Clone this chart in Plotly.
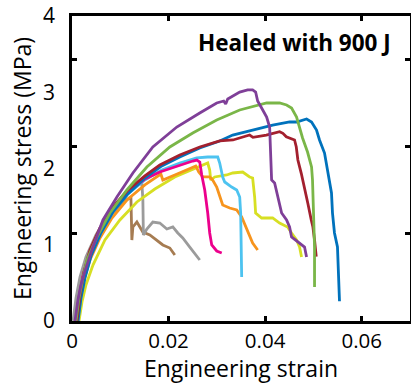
import plotly.graph_objects as go

# ---- data (strain, stress in MPa) ----
purple_x = [0.00062, 0.00124, 0.00186, 0.00269, 0.00434, 0.00641, 0.00930, 0.01261, 0.01674, 0.02170,
            0.02646, 0.02997, 0.03142, 0.03183, 0.03225, 0.03473, 0.03638, 0.03741, 0.03803, 0.03845,
            0.03927, 0.04031, 0.04093, 0.04113, 0.04134, 0.04196, 0.04258, 0.04341, 0.04444, 0.04506,
            0.04547, 0.04713, 0.04816, 0.04858]
purple_y = [0.00, 0.275, 0.472, 0.656, 0.970, 1.325, 1.626, 1.941, 2.282, 2.544,
            2.728, 2.859, 2.885, 2.846, 2.911, 3.003, 3.030, 3.030, 3.003, 2.885,
            2.793, 2.675, 2.544, 2.282, 1.849, 1.810, 1.626, 1.416, 1.325, 1.233,
            1.102, 1.023, 0.970, 0.839]

green_x = [0.00083, 0.00145, 0.00227, 0.00310, 0.00517, 0.00785, 0.01137, 0.01550, 0.02026, 0.02501,
           0.02997, 0.03473, 0.04031, 0.04299, 0.04444, 0.04547, 0.04651, 0.04713, 0.04775, 0.04878,
           0.04961, 0.04981, 0.05002, 0.05023, 0.05023]
green_y = [0.0, 0.302, 0.564, 0.800, 1.102, 1.416, 1.718, 2.020, 2.282, 2.466,
           2.636, 2.767, 2.859, 2.859, 2.833, 2.793, 2.675, 2.531, 2.400, 2.216,
           2.020, 1.849, 1.416, 0.970, 0.446]

blue_x = [0.00124, 0.00186, 0.00269, 0.00393, 0.00599, 0.00847, 0.01158, 0.01509, 0.01860, 0.02232,
          0.02646, 0.03059, 0.03328, 0.03741, 0.04155, 0.04506, 0.04651, 0.04858, 0.04961, 0.05064,
          0.05126, 0.05230, 0.05292, 0.05374, 0.05395, 0.05436, 0.05498, 0.05519, 0.05540]
blue_y = [0.0, 0.302, 0.564, 0.852, 1.154, 1.430, 1.666, 1.875, 2.033, 2.151,
          2.269, 2.361, 2.439, 2.505, 2.570, 2.610, 2.610, 2.649, 2.610, 2.505,
          2.374, 2.203, 1.980, 1.679, 1.416, 1.154, 0.970, 0.708, 0.260]

red_x = [0.00103, 0.00165, 0.00248, 0.00372, 0.00579, 0.00827, 0.01137, 0.01509, 0.01819, 0.02232,
         0.02646, 0.03059, 0.03334, 0.03679, 0.03748, 0.04024, 0.04299, 0.04368, 0.04438, 0.04609,
         0.04644, 0.04678, 0.04748, 0.04816, 0.04884, 0.04955, 0.04988, 0.05023, 0.05058]
red_y = [0.0, 0.328, 0.643, 0.931, 1.220, 1.482, 1.705, 1.902, 2.046, 2.177,
         2.282, 2.361, 2.374, 2.439, 2.409, 2.439, 2.483, 2.461, 2.417, 2.374,
         2.286, 2.111, 1.937, 1.761, 1.544, 1.325, 1.237, 1.062, 0.843]

lightblue_x = [0.00124, 0.00186, 0.00269, 0.00393, 0.00599, 0.00847, 0.01158, 0.01509, 0.01860, 0.02232,
               0.02584, 0.02811, 0.03018, 0.03059, 0.03121, 0.03163, 0.03307, 0.03411, 0.03473, 0.03493,
               0.03514]
lightblue_y = [0.0, 0.315, 0.590, 0.866, 1.167, 1.430, 1.666, 1.849, 1.980, 2.072,
               2.138, 2.151, 2.151, 2.072, 1.888, 1.823, 1.757, 1.718, 1.626, 1.416,
               0.577]

magenta_x = [0.00083, 0.00145, 0.00227, 0.00351, 0.00558, 0.00806, 0.01137, 0.01509, 0.01819, 0.02232,
             0.02501, 0.02584, 0.02646, 0.02687, 0.02749, 0.02811, 0.02852, 0.02894, 0.02997, 0.03101]
magenta_y = [0.0, 0.315, 0.590, 0.866, 1.167, 1.430, 1.679, 1.862, 1.954, 2.046,
             2.098, 2.111, 2.085, 1.915, 1.718, 1.416, 1.154, 0.997, 0.918, 0.892]

orange_x = [0.00103, 0.00165, 0.00248, 0.00372, 0.00579, 0.00827, 0.01137, 0.01509, 0.01840, 0.01881,
            0.02129, 0.02439, 0.02563, 0.02625, 0.02708, 0.02852, 0.02914, 0.02997, 0.03059, 0.03121,
            0.03266, 0.03411, 0.03514, 0.03617, 0.03679, 0.03741, 0.03845]
orange_y = [0.0, 0.275, 0.538, 0.800, 1.089, 1.351, 1.587, 1.784, 1.928, 1.849,
            1.915, 2.007, 2.033, 1.954, 1.889, 1.889, 1.849, 1.757, 1.652, 1.521,
            1.482, 1.456, 1.364, 1.220, 1.128, 1.023, 0.931]

yellow_x = [0.00145, 0.00207, 0.00289, 0.00434, 0.00682, 0.00992, 0.01344, 0.01716, 0.02129, 0.02501,
            0.02811, 0.02852, 0.02873, 0.02956, 0.03204, 0.03328, 0.03535, 0.03679, 0.03741, 0.03783,
            0.03803, 0.03927, 0.04155, 0.04299, 0.04465, 0.04547, 0.04651, 0.04713, 0.04754]
yellow_y = [0.0, 0.249, 0.472, 0.734, 1.062, 1.325, 1.561, 1.731, 1.889, 1.993,
            2.072, 1.980, 1.849, 1.889, 1.915, 1.941, 1.954, 1.889, 1.875, 1.626,
            1.416, 1.351, 1.351, 1.285, 1.233, 1.154, 1.062, 0.970, 0.839]

gray_x = [0.00021, 0.00083, 0.00165, 0.00289, 0.00496, 0.00744, 0.01034, 0.01240, 0.01447, 0.01468,
          0.01478, 0.01550, 0.01674, 0.01819, 0.01964, 0.02088, 0.02191, 0.02294, 0.02439, 0.02646]
gray_y = [0.0, 0.302, 0.577, 0.839, 1.128, 1.390, 1.613, 1.744, 1.810, 1.587,
          1.128, 1.207, 1.298, 1.285, 1.207, 1.233, 1.154, 1.089, 0.970, 0.800]

brown_x = [0.00062, 0.00124, 0.00207, 0.00331, 0.00537, 0.00785, 0.01034, 0.01220, 0.01240, 0.01261,
           0.01344, 0.01406, 0.01468, 0.01612, 0.01757, 0.01881, 0.02026, 0.02129]
brown_y = [0.0, 0.302, 0.564, 0.826, 1.115, 1.377, 1.548, 1.626, 1.062, 1.233,
           1.298, 1.233, 1.167, 1.128, 1.062, 0.997, 0.957, 0.866]

x_tickvals = [0, 0.02, 0.04, 0.06]
x_ticktext = ["0", "0.02", "0.04", "0.06"]
y_tickvals = [0, 1, 2, 3, 4]
y_ticktext = ["0", "1", "2", "3", "4"]
y_tickmarks = [1, 2, 3]

series = [
    ("brown", brown_x, brown_y, "#A67C52"),
    ("gray", gray_x, gray_y, "#9B9B9B"),
    ("yellow", yellow_x, yellow_y, "#D7DF23"),
    ("orange", orange_x, orange_y, "#F7941D"),
    ("lightblue", lightblue_x, lightblue_y, "#4DC3F0"),
    ("magenta", magenta_x, magenta_y, "#EC008C"),
    ("blue", blue_x, blue_y, "#0072BC"),
    ("red", red_x, red_y, "#A3202E"),
    ("green", green_x, green_y, "#7AB648"),
    ("purple", purple_x, purple_y, "#7F3F98"),
]

fig = go.Figure()
for name, xs, ys, col in series:
    fig.add_trace(go.Scatter(x=xs, y=ys, mode="lines", name=name,
                             line=dict(color=col, width=2.8), showlegend=False))
# empty trace to activate the tick-mark axis
fig.add_trace(go.Scatter(x=[], y=[], yaxis="y2", showlegend=False))

FONT = "Open Sans"
fig.update_layout(
    template="none",
    width=411, height=384,
    margin=dict(l=72, r=1, t=16, b=63),
    paper_bgcolor="white", plot_bgcolor="white",
    font=dict(family=FONT, color="black", size=21),
    xaxis=dict(range=[0, 0.07], tickvals=x_tickvals, ticktext=x_ticktext, automargin=False,
               ticks="inside", ticklen=5, tickwidth=2.5, tickcolor="black",
               showline=True, linecolor="black", linewidth=2.5, mirror="ticks",
               showgrid=False, zeroline=False, tickfont=dict(size=20.5),
               ticklabeloverflow="allow",
               title=dict(text="Engineering strain", font=dict(size=23), standoff=5)),
    yaxis=dict(range=[0, 4], tickvals=y_tickvals, ticktext=y_ticktext, automargin=False,
               ticks="", showline=True, linecolor="black", linewidth=2.5, mirror=True,
               showgrid=False, zeroline=False, tickfont=dict(size=21), ticklabelstandoff=10,
               ticklabeloverflow="allow",
               title=dict(text="Engineering stress (MPa)", font=dict(size=23), standoff=5)),
    yaxis2=dict(range=[0, 3.5], overlaying="y", side="left", tickvals=y_tickmarks, automargin=False,
                ticks="inside", ticklen=5, tickwidth=2.5, tickcolor="black",
                showticklabels=False, showline=False, mirror="ticks",
                showgrid=False, zeroline=False),
    annotations=[dict(text="<b>Healed with 900 J</b>", xref="paper", yref="paper",
                      x=0.95, y=0.913, xanchor="right", yanchor="middle", showarrow=False,
                      font=dict(size=22.5, family=FONT, color="black"))],
)
fig.write_html("out.html", config={"displayModeBar": False},
               post_script="document.body.style.margin='0';")
